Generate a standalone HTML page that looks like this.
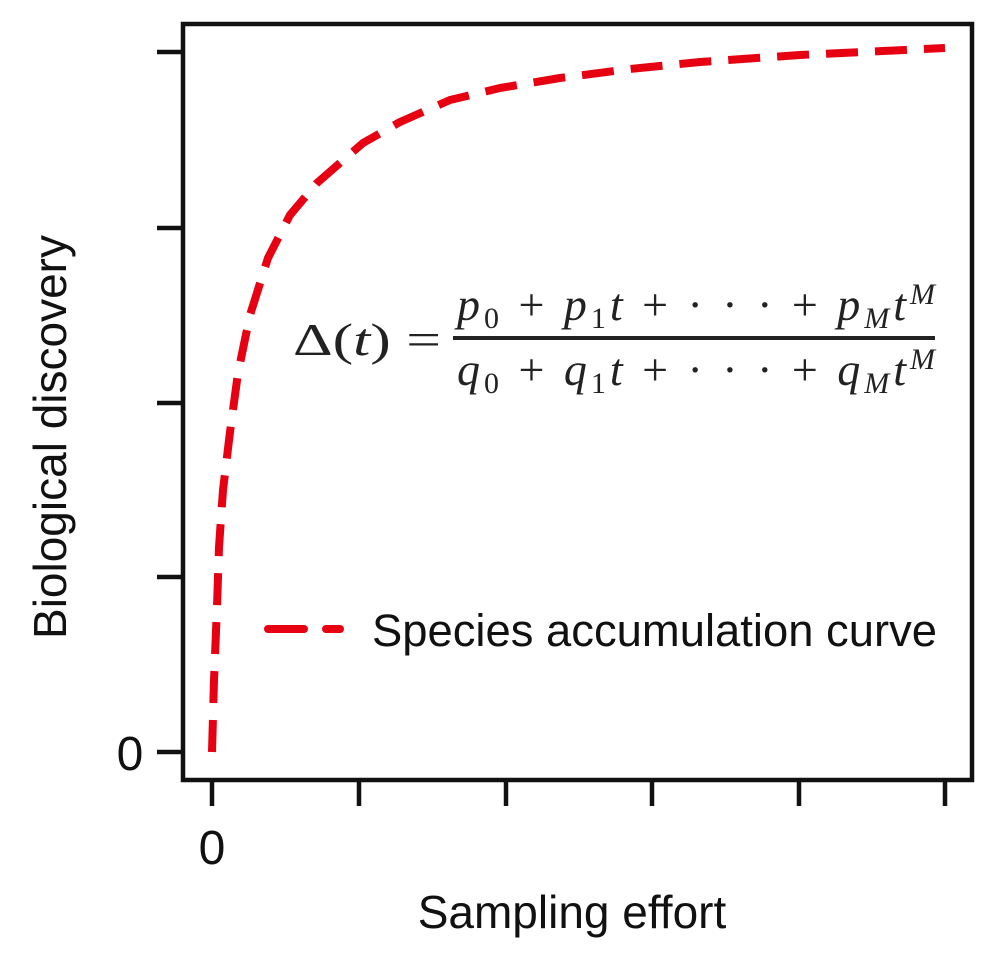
<!DOCTYPE html>
<html><head><meta charset="utf-8"><style>
body{margin:0;background:#fff;width:1000px;height:963px;overflow:hidden}
svg{display:block}
.s{font-family:"Liberation Sans",sans-serif;fill:#111}
.m{font-family:"Liberation Serif",serif;fill:#222;font-size:46px}
</style></head><body>
<svg width="1000" height="963" viewBox="0 0 1000 963">
<rect x="183" y="24" width="789" height="756" fill="none" stroke="#111" stroke-width="4.5"/>
<g stroke="#111" stroke-width="4.5">
<line x1="157" y1="52" x2="183" y2="52"/><line x1="157" y1="228" x2="183" y2="228"/>
<line x1="157" y1="403" x2="183" y2="403"/><line x1="157" y1="577" x2="183" y2="577"/>
<line x1="157" y1="752" x2="183" y2="752"/>
<line x1="212" y1="780" x2="212" y2="806"/><line x1="359" y1="780" x2="359" y2="806"/>
<line x1="506" y1="780" x2="506" y2="806"/><line x1="652" y1="780" x2="652" y2="806"/>
<line x1="799" y1="780" x2="799" y2="806"/><line x1="945" y1="780" x2="945" y2="806"/>
</g>
<text class="s" x="130" y="770" font-size="48" text-anchor="middle">0</text>
<text class="s" x="212" y="864" font-size="48" text-anchor="middle">0</text>
<text class="s" x="572" y="928" font-size="46" text-anchor="middle">Sampling effort</text>
<text class="s" x="66" y="437" font-size="46" text-anchor="middle" transform="rotate(-90 66 437)">Biological discovery</text>
<polyline fill="none" stroke="#e60012" stroke-width="8" stroke-dasharray="32 17" stroke-linejoin="round"
points="212,752 214,680 217,607 219,547 223,490 230,432 238,373 250,315 268,258 290,215 317,183 363,143 400,122 450,100 500,88 560,78 630,69 700,62 800,55 945,48"/>
<line x1="268" y1="629" x2="340" y2="629" stroke="#e60012" stroke-width="8" stroke-dasharray="36 22" stroke-linecap="round"/>
<text class="s" x="372" y="646" font-size="45" textLength="565" lengthAdjust="spacingAndGlyphs">Species accumulation curve</text>
<text class="m" x="293" y="355" textLength="148" lengthAdjust="spacingAndGlyphs">Δ(<tspan font-style="italic">t</tspan>) =</text>
<text class="m" x="457" y="320" textLength="478" lengthAdjust="spacing"><tspan font-style="italic">p</tspan><tspan font-size="30" dy="8">0</tspan><tspan dy="-8"> + </tspan><tspan font-style="italic">p</tspan><tspan font-size="30" dy="8">1</tspan><tspan font-style="italic" dy="-8">t</tspan> + · · · + <tspan font-style="italic">p</tspan><tspan font-size="30" font-style="italic" dy="8">M</tspan><tspan font-style="italic" dy="-8">t</tspan><tspan font-size="30" font-style="italic" dy="-16">M</tspan></text>
<line x1="453" y1="338" x2="935" y2="338" stroke="#222" stroke-width="4"/>
<text class="m" x="457" y="385" textLength="478" lengthAdjust="spacing"><tspan font-style="italic">q</tspan><tspan font-size="30" dy="8">0</tspan><tspan dy="-8"> + </tspan><tspan font-style="italic">q</tspan><tspan font-size="30" dy="8">1</tspan><tspan font-style="italic" dy="-8">t</tspan> + · · · + <tspan font-style="italic">q</tspan><tspan font-size="30" font-style="italic" dy="8">M</tspan><tspan font-style="italic" dy="-8">t</tspan><tspan font-size="30" font-style="italic" dy="-16">M</tspan></text>
</svg>
</body></html>
